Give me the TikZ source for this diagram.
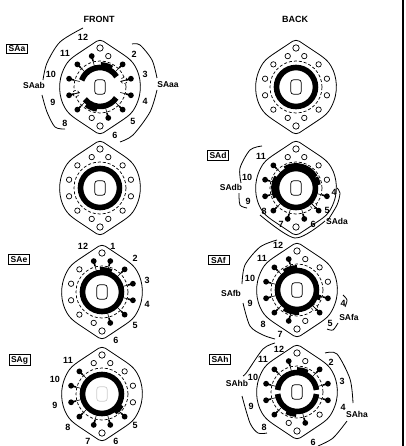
\documentclass[tikz,border=0pt]{standalone}
\usepackage{xcolor}
\usepackage{fontspec}
\setmainfont{Liberation Sans}

\tikzset{
    numlabel/.style={inner sep=0pt, font=\fontsize{9}{9}\selectfont\bfseries},
    namelabel/.style={inner sep=0pt, font=\fontsize{8.5}{9}\selectfont\bfseries},
    boxlabel/.style={draw, line width=1pt, inner sep=1.5pt, minimum width=21pt, font=\fontsize{8.5}{9}\selectfont\bfseries},
    outline/.style={line width=0.8pt, rounded corners=4pt},
    hole/.style={line width=0.7pt, fill=white},
    dashring/.style={line width=0.7pt, densely dashed},
    ringline/.style={line width=5.6pt},
    bumpline/.style={line width=3.8pt},
    bracket/.style={line width=0.8pt}
}

% one wafer: outline, the two big holes, dashed circle, shaft slot
\newcommand{\waferbase}[1]{
    \draw[outline] (0,48) -- (27,30) arc[start angle=48, end angle=-48, radius=40.4]
        -- (0,-48) -- (-27,-30) arc[start angle=-132, end angle=-228, radius=40.4] -- cycle;
    \draw[hole] (0,39) circle (3.2);
    \draw[hole] (0,-39) circle (3.2);
    \draw[dashring] (0,0) circle (26);
    \draw[#1, line width=0.7pt, rounded corners=3pt] (-5.3,-7.3) rectangle (5.3,7.3);
}
\newcommand{\waferholes}[1]{
    \foreach \ang in {#1} \draw[hole] (\ang:32) circle (2.7);
}
\newcommand{\wafercontacts}[1]{
    \foreach \ang in {#1} {
        \draw[line width=0.6pt] (\ang:32) -- (\ang:21);
        \draw[line width=1.6pt] (\ang:32) -- (\ang:27);
        \fill (\ang:32) circle (2.9);
    }
}
\newcommand{\ringarc}[2]{
    \draw[ringline] (#1:19.5) arc[start angle=#1, end angle=#2, radius=19.5];
}
\newcommand{\ringbump}[2]{
    \draw[bumpline] (#1:23) arc[start angle=#1, end angle=#2, radius=23];
}
\newcommand{\dashoval}[1]{
    \draw[line width=0.6pt, densely dashed, fill=white] (#1:25) circle (3.2);
    \draw[line width=0.6pt] (#1:28) -- (#1:22);
}

\begin{document}
\begin{tikzpicture}[x=1pt, y=-1pt]
    \useasboundingbox (0,0) rectangle (405,446);

    \node[numlabel] (front) at (99,19) {FRONT};
    \node[numlabel] (back) at (295,19) {BACK};
    \draw[line width=2.2pt] (402.8,0) -- (402.8,446);

    % SAa
    \begin{scope}[shift={(100,87)}, y=1pt]
        \waferbase{black}
        \waferholes{75,-105}
        \dashoval{15}
        \dashoval{-165}
        \wafercontacts{105,45,15,-15,-45,-75,-135,-165,165,135}
        \ringarc{160}{32}
        \ringarc{-141}{-34}
        \ringbump{88}{58}
        \ringbump{-98}{-128}
    \end{scope}
    \node[boxlabel] (saa) at (17,49) {SAa};
    \foreach \lab/\xx/\yy in {12/83/37, 11/65/53, 10/51/74, 9/53/102, 8/65/123, 2/134/54, 3/145/74, 4/145/101, 5/133/121, 6/115/135}
        \node[numlabel] (saa\lab) at (\xx,\yy) {\lab};
    \node[namelabel] (saab) at (34,85) {SAab};
    \node[namelabel] (saaa) at (168,85) {SAaa};
    \draw[bracket] plot[smooth] coordinates {(83,28) (60,42) (47,63) (43,80)};
    \draw[bracket] plot[smooth] coordinates {(42,95) (47,112) (55,127) (65,129)};
    \draw[bracket] plot[smooth] coordinates {(132,44) (140,45) (152,60) (157,78)};
    \draw[bracket] plot[smooth] coordinates {(157,90) (150,112) (133,135) (120,142)};

    % blank wafers
    \begin{scope}[shift={(100,188)}, y=1pt]
        \waferbase{black}
        \waferholes{75,45,15,-15,-45,-75,-105,-135,-165,165,135,105}
        \ringarc{0}{360}
    \end{scope}
    \begin{scope}[shift={(296,87)}, y=1pt]
        \waferbase{black}
        \waferholes{75,45,15,-15,-45,-75,-105,-135,-165,165,135,105}
        \ringarc{0}{360}
    \end{scope}

    % SAe
    \begin{scope}[shift={(102,292)}, y=1pt]
        \waferbase{black}
        \waferholes{-105,-135,-165,165,135}
        \wafercontacts{105,75,45,15,-15,-45,-75}
        \ringarc{0}{360}
        \ringbump{95}{65}
    \end{scope}
    \node[boxlabel] (sae) at (19,259.5) {SAe};
    \foreach \lab/\xx/\yy in {12/83/246, 1/113/246, 2/135/258, 3/147/280, 4/147/304, 5/135/325, 6/116/340}
        \node[numlabel] (sae\lab) at (\xx,\yy) {\lab};

    % SAg
    \begin{scope}[shift={(102,394)}, y=1pt]
        \waferbase{black!20}
        \waferholes{105,75,45,15,-15}
        \wafercontacts{135,165,-165,-135,-105,-75,-45}
        \ringarc{0}{360}
        \ringbump{-30}{-55}
    \end{scope}
    \node[boxlabel] (sag) at (19.5,360) {SAg};
    \foreach \lab/\xx/\yy in {11/68/360, 10/55/379, 9/55/405, 8/68/427, 7/88/441, 6/116/441, 5/135/425}
        \node[numlabel] (sag\lab) at (\xx,\yy) {\lab};

    % SAd
    \begin{scope}[shift={(296,188)}, y=1pt]
        \waferbase{black}
        \waferholes{105,75,45,15}
        \dashoval{-45}
        \wafercontacts{135,165,-165,-135,-105,-75,-45,-15}
        \ringarc{0}{360}
        \ringbump{150}{205}
        \ringbump{120}{30}
        \ringbump{28}{8}
    \end{scope}
    \node[boxlabel] (sad) at (218,155.5) {SAd};
    \foreach \lab/\xx/\yy in {11/261/156, 10/247/177, 9/248/201, 8/264/211, 7/281/224, 6/313/224, 5/327/210, 4/334/192}
        \node[numlabel] (sad\lab) at (\xx,\yy) {\lab};
    \node[namelabel] (sadb) at (231,187) {SAdb};
    \node[namelabel] (sada) at (337,221) {SAda};
    \draw[bracket] plot[smooth] coordinates {(262,146) (250,150) (240,168) (241,183)};
    \draw[bracket] plot[smooth] coordinates {(239,193) (240,205) (247,208)};
    \draw[bracket] plot[smooth] coordinates {(260,215) (295,238) (325,221)};
    \draw[bracket] plot[smooth] coordinates {(337,188) (340,193) (337,205) (328,220)};

    % SAf
    \begin{scope}[shift={(297,290)}, y=1pt]
        \waferbase{black}
        \waferholes{75,45,15,-75}
        \dashoval{-45}
        \wafercontacts{105,135,165,-165,-135,-105,-45,-15}
        \ringarc{0}{360}
        \ringbump{125}{90}
        \ringbump{-85}{-125}
        \ringbump{-12}{-25}
    \end{scope}
    \node[boxlabel] (saf) at (218.5,260) {SAf};
    \foreach \lab/\xx/\yy in {12/278/245, 11/262/258, 10/250/278, 9/250/303, 8/263/324, 7/280/334, 4/343/303, 5/330/323}
        \node[numlabel] (saf\lab) at (\xx,\yy) {\lab};
    \node[namelabel] (safb) at (231,293) {SAfb};
    \node[namelabel] (safa) at (349,317) {SAfa};
    \draw[bracket] plot[smooth] coordinates {(277,240) (260,247) (245,265) (242,284)};
    \draw[bracket] plot[smooth] coordinates {(243,303) (250,326) (263,335) (275,339)};
    \draw[bracket] plot[smooth] coordinates {(343,295) (347,300) (345,307)};
    \draw[bracket] plot[smooth] coordinates {(338,323) (333,330) (327,329)};

    % SAh
    \begin{scope}[shift={(297,392)}, y=1pt]
        \waferbase{black}
        \waferholes{75,-45,-105}
        \wafercontacts{105,45,15,-15,-75,-135,-165,165,135}
        \ringarc{174}{6}
        \ringarc{-174}{-6}
        \ringbump{90}{62}
        \ringbump{-92}{-118}
    \end{scope}
    \node[boxlabel] (sah) at (220,359.5) {SAh};
    \foreach \lab/\xx/\yy in {12/279/349, 11/263/359, 10/253/377, 9/251/406, 8/264/427, 6/313/442, 4/343/407, 3/342/381, 2/331/362}
        \node[numlabel] (sah\lab) at (\xx,\yy) {\lab};
    \node[namelabel] (sahb) at (237,383) {SAhb};
    \node[namelabel] (saha) at (357,414) {SAha};
    \draw[bracket] plot[smooth] coordinates {(275,343) (263,349) (247,372) (243,376)};
    \draw[bracket] plot[smooth] coordinates {(242,396) (250,423) (258,433) (267,433)};
    \draw[bracket] plot[smooth] coordinates {(325,353) (337,354) (350,379) (353,403)};
    \draw[bracket] plot[smooth] coordinates {(347,421) (333,438) (318,446)};
\end{tikzpicture}
\end{document}
